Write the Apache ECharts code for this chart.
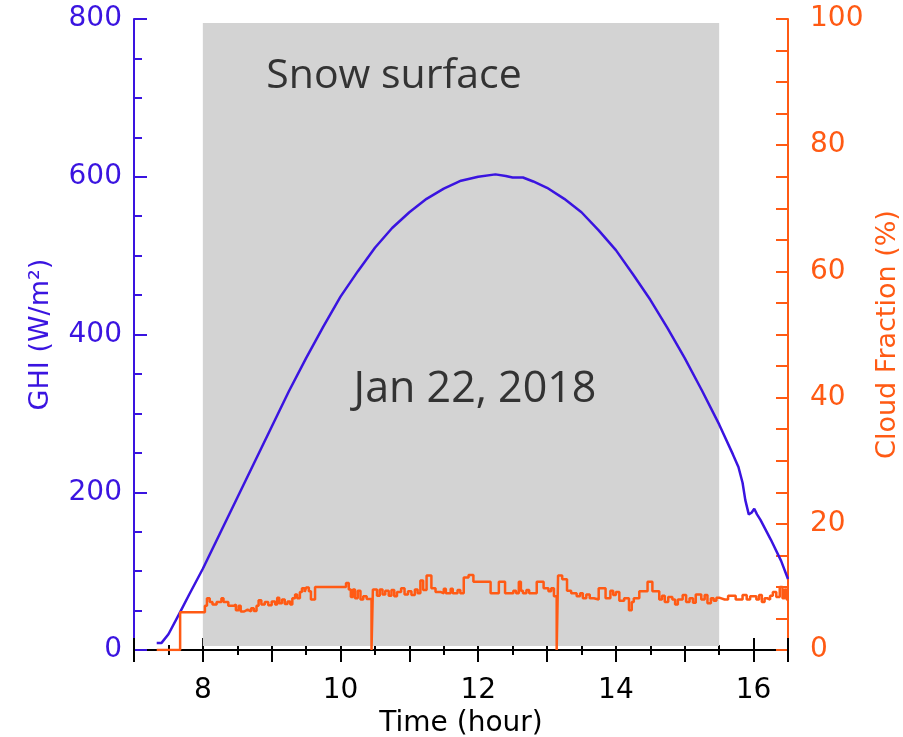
<!DOCTYPE html>
<html>
<head>
<meta charset="utf-8">
<script src="https://cdn.jsdelivr.net/npm/echarts@6/dist/echarts.min.js"></script>
<style>html,body{margin:0;padding:0;background:#fff}#c{width:903px;height:737px}</style>
</head>
<body>
<div id="c"></div>
<script>
// GHI (W/m2) vs time (hour)
var ghiHours = [7.33,7.40,7.50,7.67,7.80,8.00,8.25,8.50,8.75,9.00,9.25,9.50,9.75,10.00,10.25,10.50,10.75,11.00,11.25,11.50,11.75,12.00,12.25,12.40,12.50,12.65,12.80,13.00,13.25,13.50,13.75,14.00,14.25,14.50,14.75,15.00,15.25,15.50,15.70,15.78,15.84,15.88,15.93,15.97,16.01,16.05,16.10,16.25,16.40,16.50];
var ghiValues = [9,9,20,48,70,103,148,193,238,283,328,370,410,448,480,510,535,555,572,585,595,600,603,601,599,599,594,586,572,555,532,507,476,444,408,370,329,286,248,232,212,190,172,174,179,172,165,140,113,90];

// Cloud fraction (%) change points (value holds until next time)
var cloudHours = [7.33,7.67,8.03,8.06,8.10,8.14,8.20,8.27,8.30,8.37,8.45,8.48,8.52,8.55,8.60,8.65,8.70,8.74,8.78,8.81,8.85,8.90,8.95,9.00,9.05,9.08,9.11,9.15,9.19,9.23,9.27,9.30,9.34,9.37,9.41,9.44,9.48,9.50,9.54,9.57,9.63,10.08,10.12,10.15,10.18,10.21,10.25,10.29,10.33,10.38,10.45,10.47,10.53,10.57,10.61,10.65,10.70,10.74,10.78,10.82,10.88,10.93,10.98,11.03,11.08,11.12,11.16,11.20,11.25,11.32,11.38,11.45,11.50,11.53,11.60,11.63,11.70,11.74,11.79,11.86,11.93,12.18,12.30,12.39,12.51,12.55,12.59,12.62,12.65,12.70,12.74,12.78,12.85,12.95,13.02,13.06,13.10,13.14,13.16,13.22,13.29,13.35,13.43,13.48,13.52,13.57,13.62,13.68,13.75,13.85,13.92,13.96,14.00,14.05,14.12,14.19,14.23,14.26,14.34,14.46,14.53,14.63,14.67,14.71,14.76,14.82,14.86,14.90,14.97,15.02,15.07,15.12,15.16,15.24,15.29,15.33,15.38,15.42,15.46,15.50,15.58,15.63,15.74,15.84,15.90,15.95,16.04,16.08,16.12,16.16,16.20,16.24,16.28,16.33,16.38,16.42,16.45,16.48];
var cloudValues = [0,6.0,7.0,8.2,7.6,7.2,7.6,8.2,7.6,7.0,7.2,6.3,7.0,6.1,6.4,6.1,6.6,6.2,7.0,7.9,7.2,7.6,7.1,7.7,7.2,8.3,7.4,8.0,7.3,7.7,7.2,8.2,8.8,8.2,9.2,9.8,9.2,9.9,9.3,8.0,10.0,10.6,9.6,8.4,9.6,8.2,9.4,8.0,8.5,8.1,0,9.6,8.6,9.6,8.8,9.4,8.6,9.5,8.5,9.2,9.8,8.8,9.3,8.7,9.6,9.0,11.0,9.5,11.8,9.8,9.2,9.0,9.7,9.0,9.7,9.0,9.5,9.0,11.5,11.9,10.8,9.0,10.8,9.0,9.4,9.0,10.8,9.4,9.0,9.5,9.0,9.0,10.8,9.8,9.3,9.8,8.5,0,11.8,11.2,9.4,9.0,8.5,9.0,8.2,8.8,8.2,8.0,9.8,8.2,9.4,8.7,9.2,7.8,8.2,6.3,7.6,8.2,9.3,10.8,9.3,8.0,8.6,7.6,8.4,8.0,7.2,8.0,8.7,7.6,8.2,7.5,8.8,8.0,8.7,7.4,8.2,7.8,8.3,8.0,8.0,8.6,8.0,8.7,8.0,8.5,8.0,8.7,7.6,8.2,8.0,8.6,9.2,8.4,10.0,8.2,9.6,8.0];

var xMin = 7, xMax = 16.5;
var snowStart = 8.0, snowEnd = 15.5;
var leftTicks = {min:0, max:800, interval:200};
var rightTicks = {min:0, max:100, interval:20};

var BLUE = '#3a14e0', ORANGE = '#ff5a14', FONT = 'DejaVu Sans';

var ghiData = ghiHours.map(function(h,i){return [h, ghiValues[i]];});
var cloudData = cloudHours.map(function(h,i){return [h, cloudValues[i]];});
cloudData.push([xMax, cloudValues[cloudValues.length-1]]);

var chart = echarts.init(document.getElementById('c'), null, {renderer:'canvas'});
chart.setOption({
  animation: false,
  grid: {left:134, right:115, top:19, bottom:87, containLabel:false, outerBoundsMode:'none'},
  xAxis: [{
    type:'value', min:xMin, max:xMax, interval:1, position:'bottom',
    name:'Time (hour)', nameLocation:'middle', nameGap:52,
    nameTextStyle:{color:'#000', fontSize:28, fontFamily:FONT},
    axisLine:{lineStyle:{color:'#000', width:2}},
    axisTick:{inside:true, length:12, lineStyle:{color:'#000', width:2}},
    minorTick:{show:true, splitNumber:2, length:5, lineStyle:{color:'#000', width:2}},
    splitLine:{show:false},
    axisLabel:{color:'#000', fontSize:28, fontFamily:FONT, margin:27,
      formatter:function(v){return (Math.round(v)%2===0)?String(Math.round(v)):'';}}
  },{
    type:'value', min:xMin, max:xMax, interval:1, position:'top',
    axisLine:{lineStyle:{color:'#000', width:2}},
    axisTick:{inside:true, length:12, lineStyle:{color:'#000', width:2}},
    minorTick:{show:true, splitNumber:2, length:5, lineStyle:{color:'#000', width:2}},
    splitLine:{show:false}, axisLabel:{show:false}
  }],
  yAxis: [{
    type:'value', min:leftTicks.min, max:leftTicks.max, interval:leftTicks.interval, position:'left',
    name:'GHI (W/m²)', nameLocation:'middle', nameGap:80,
    nameTextStyle:{color:BLUE, fontSize:27, fontFamily:FONT},
    axisLine:{show:true, lineStyle:{color:BLUE, width:2}},
    axisTick:{show:true, inside:true, length:13, lineStyle:{color:BLUE, width:2}},
    minorTick:{show:true, splitNumber:4, length:8, lineStyle:{color:BLUE, width:2}},
    splitLine:{show:false},
    axisLabel:{color:BLUE, fontSize:28, fontFamily:FONT, margin:12}
  },{
    type:'value', min:rightTicks.min, max:rightTicks.max, interval:rightTicks.interval, position:'right',
    name:'Cloud Fraction (%)', nameLocation:'middle', nameGap:68, nameRotate:90,
    nameTextStyle:{color:ORANGE, fontSize:27, fontFamily:FONT},
    axisLine:{show:true, lineStyle:{color:ORANGE, width:2}},
    axisTick:{show:true, inside:true, length:12, lineStyle:{color:ORANGE, width:2}},
    minorTick:{show:true, splitNumber:4, length:12, lineStyle:{color:ORANGE, width:2}},
    splitLine:{show:false},
    axisLabel:{color:ORANGE, fontSize:28, fontFamily:FONT, margin:22}
  }],
  series: [{
    type:'line', data:[], z:1, silent:true,
    markArea:{silent:true, itemStyle:{color:'#d3d3d3'},
      data:[[{coord:[snowStart, 5]},{coord:[snowEnd, 795]}]]}
  },{
    name:'GHI', type:'line', data:ghiData, xAxisIndex:0, yAxisIndex:0, z:3,
    showSymbol:false, lineStyle:{color:BLUE, width:2.5}, itemStyle:{color:BLUE}
  },{
    name:'Cloud', type:'line', data:cloudData, xAxisIndex:0, yAxisIndex:1, z:3,
    step:'end', showSymbol:false, lineStyle:{color:ORANGE, width:2.5}, itemStyle:{color:ORANGE}
  }],
  graphic: [{
    type:'text', z:10,
    style:{text:'Snow surface', x:394, y:76, align:'center', verticalAlign:'middle',
      fill:'#333', font:'41px "Open Sans"'}
  },{
    type:'text', z:10,
    style:{text:'Jan 22, 2018', x:475, y:390, align:'center', verticalAlign:'middle',
      fill:'#333', font:'43px "Open Sans"'}
  }]
});
</script>
</body>
</html>
